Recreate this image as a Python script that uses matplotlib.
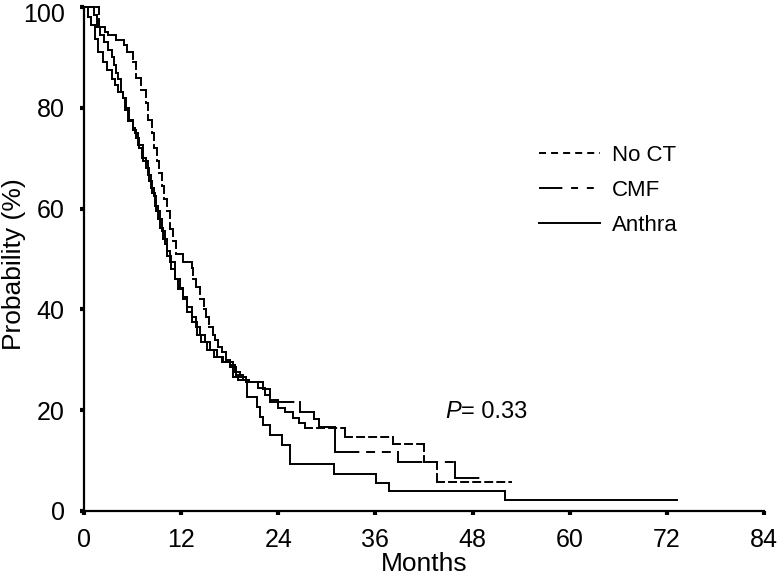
import matplotlib
matplotlib.use('Agg')
import matplotlib.pyplot as plt
import matplotlib.transforms as mtransforms
from matplotlib.collections import LineCollection
from matplotlib.lines import Line2D

plt.rcParams['font.family'] = ['Liberation Sans', 'DejaVu Sans']

# event times (months) and survival (%) after each drop
noct_t = [1.9, 2.6, 3.0, 4.0, 5.0, 5.3, 6.0, 6.4, 7.0, 7.6, 7.9, 8.4, 8.7, 9.0,
          9.3, 9.6, 9.9, 10.2, 10.6, 11.0, 11.4, 12.2, 13.3, 13.5, 13.8, 14.3,
          14.8, 15.1, 15.5, 15.9, 16.2, 16.6, 17.0, 17.5, 18.0, 18.6, 19.3,
          20.0, 21.5, 22.4, 23.0, 24.0, 24.8, 25.8, 26.5, 27.3, 32.2, 38.2,
          42.0, 43.6]
noct_s = [96, 95, 94.5, 93.5, 92.5, 91, 89, 86, 83.5, 81, 77.5, 75, 72, 69.5,
          67, 64.5, 62, 59.5, 56, 53.5, 51, 49.5, 48.3, 46, 44.5, 42,
          40, 38.5, 36.5, 35, 34, 32.5, 31.5, 30, 29, 27.5, 26.5,
          25.5, 24.5, 23, 22, 20.5, 19.6, 18.5, 17.5, 16.4, 14.7, 13.2,
          9.8, 5.8]
noct_end = 52.8

cmf_t = [1.2, 1.6, 2.0, 2.5, 3.0, 3.4, 3.7, 4.0, 4.2, 4.6, 4.8, 5.2, 5.6, 6.0,
         6.3, 6.7, 7.3, 7.9, 8.3, 8.6, 8.9, 9.4, 9.8, 10.2, 10.6, 11.2, 11.8,
         12.2, 12.7, 13.3, 13.8, 14.3, 14.9, 15.6, 16.4, 17.2, 18.0, 18.8,
         19.6, 20.4, 22.1, 23.0, 26.7, 28.4, 29.0, 31.0, 38.8, 45.8]
cmf_s = [98.5, 96, 94.5, 93, 91.5, 90, 88.5, 87, 85.8, 83.2, 82, 80, 77.5, 76,
         75, 72.7, 69.4, 66.7, 64, 62.5, 59.5, 56.2, 54, 51.5, 49.5, 46, 44.3,
         42.5, 40.5, 38.5, 36.5, 35, 33.5, 32, 30.5, 29.5, 28.5, 27,
         26, 25.5, 24.3, 21.6, 19.6, 18.2, 16.7, 11.7, 9.7, 6.5]
cmf_end = 49.7

anthra_t = [0.5, 0.9, 1.3, 1.7, 2.3, 2.8, 3.4, 3.8, 4.2, 4.8, 5.1, 5.4, 6.0,
            6.4, 6.8, 7.2, 7.6, 8.0, 8.4, 8.8, 9.2, 9.6, 10.0, 10.3, 10.8,
            11.2, 11.6, 12.2, 12.7, 13.3, 13.9, 14.5, 15.2, 16.0, 17.0, 18.4,
            19.0, 20.1, 21.4, 21.7, 22.1, 23.0, 24.4, 25.4, 30.9, 36.1, 37.7,
            52.0]
anthra_s = [98, 96.5, 93.7, 91.1, 89.1, 87.5, 85.8, 84.5, 83.2, 81.9, 79.5,
            77.3, 75.5, 74, 72, 70, 68, 65.5, 63, 60.5, 58, 55.5, 53, 50.5, 48,
            46, 44, 42, 39.5, 37.5, 35, 33.5, 32, 30.5, 29.5, 26.5,
            25.9, 22.6, 20.6, 18.6, 17.0, 15.0, 13.0, 9.4, 7.4, 5.5, 4.0,
            2.2]
anthra_end = 73.3

labels = ['No CT', 'CMF', 'Anthra']
xticks = [0, 12, 24, 36, 48, 60, 72, 84]
yticks = [0, 20, 40, 60, 80, 100]


def km_segments(times, surv, end):
    # each horizontal and vertical piece is its own segment, so dashes restart
    segs = []
    x0, y0 = 0, 100
    for t, s in zip(times, surv):
        segs.append([(x0, y0), (t, y0)])
        segs.append([(t, y0), (t, s)])
        x0, y0 = t, s
    segs.append([(x0, y0), (end, y0)])
    return segs


lw = 1.4
styles = [(0, (3.6, 2.6)), (0, (12, 4.5, 3.6, 4.5, 3.6, 4.5)), 'solid']

fig = plt.figure(figsize=(7.81, 5.78), dpi=100)
ax = fig.add_axes([84 / 781, 1 - 511 / 578, 680 / 781, 504 / 578])

curves = [(noct_t, noct_s, noct_end), (cmf_t, cmf_s, cmf_end),
          (anthra_t, anthra_s, anthra_end)]
for (t, s, e), ls in zip(curves, styles):
    lc = LineCollection(km_segments(t, s, e), colors='black', linewidths=lw,
                        linestyles=ls, capstyle='projecting', clip_on=False)
    ax.add_collection(lc)

ax.set_xlim(0, 84)
ax.set_ylim(0, 100)
ax.set_xticks(xticks)
ax.set_yticks(yticks)
for side in ['top', 'right']:
    ax.spines[side].set_visible(False)
for side in ['left', 'bottom']:
    ax.spines[side].set_linewidth(1.6)
ax.tick_params(direction='out', length=3, width=3, labelsize=18)
ax.tick_params(axis='x', pad=9)
ax.tick_params(axis='y', pad=11)
ylabs = ax.get_yticklabels()
for lab in ylabs:
    lab.set_verticalalignment('center_baseline')
# nudge the top label down so it stays inside the picture
ylabs[-1].set_transform(ylabs[-1].get_transform() +
                        mtransforms.ScaledTranslation(0, -4 / 72, fig.dpi_scale_trans))
ax.set_xlabel('Months', fontsize=19, labelpad=0)
ax.set_ylabel('Probability (%)', fontsize=19)
ax.yaxis.set_label_coords(-0.086, 0.49)

handles = [Line2D([], [], color='black', lw=lw, linestyle=ls) for ls in styles]
ax.legend(handles, labels, loc='upper left', bbox_to_anchor=(0.669, 0.727),
          frameon=False, fontsize=16, handlelength=2.75, handletextpad=0.55,
          labelspacing=0.63, borderpad=0, borderaxespad=0)

ptxt = ax.text(44.6, 18.5, 'P', style='italic', fontsize=17)
ax.annotate('= 0.33', xy=(1, 0), xycoords=ptxt, fontsize=17, va='bottom')

fig.savefig('out.png', dpi=100)
